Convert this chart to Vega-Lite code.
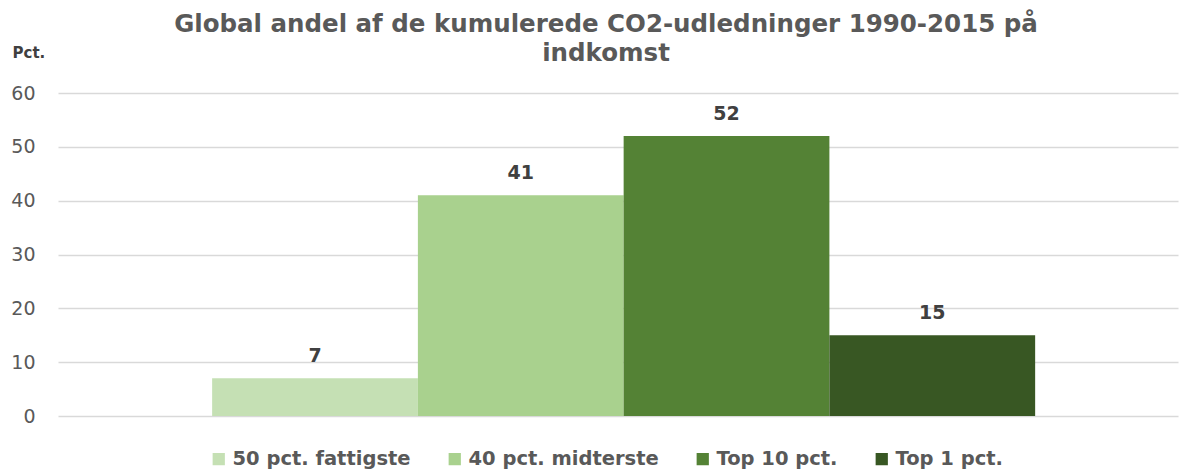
{
  "$schema": "https://vega.github.io/schema/vega-lite/v6.json",
  "width": 1120,
  "height": 323,
  "autosize": {"type": "none"},
  "padding": {"left": 58, "top": 93, "right": 8, "bottom": 55},
  "background": "white",
  "config": {"view": {"stroke": null}},
  "title": {
    "text": ["Global andel af de kumulerede CO2-udledninger 1990-2015 på", "indkomst"],
    "font": "DejaVu Sans",
    "fontSize": 24.5,
    "fontWeight": "bold",
    "color": "#595959",
    "anchor": "middle",
    "dx": -12,
    "offset": -21,
    "lineHeight": 29
  },
  "data": {
    "values": [
      {"gruppe": "50 pct. fattigste", "andel": 7},
      {"gruppe": "40 pct. midterste", "andel": 41},
      {"gruppe": "Top 10 pct.", "andel": 52},
      {"gruppe": "Top 1 pct.", "andel": 15}
    ]
  },
  "encoding": {
    "x": {
      "field": "gruppe",
      "type": "nominal",
      "sort": ["50 pct. fattigste", "40 pct. midterste", "Top 10 pct.", "Top 1 pct."],
      "scale": {"paddingInner": 0, "paddingOuter": 0.7217, "align": 0.519},
      "axis": null
    },
    "y": {
      "field": "andel",
      "type": "quantitative",
      "scale": {"domain": [0, 60]},
      "axis": {
        "values": [0, 10, 20, 30, 40, 50, 60],
        "title": "Pct.",
        "titleAngle": 0,
        "titleAlign": "left",
        "titleBaseline": "middle",
        "titleX": -46,
        "titleY": -41,
        "titleFont": "DejaVu Sans",
        "titleFontSize": 15,
        "titleFontWeight": "bold",
        "titleColor": "#404040",
        "labelFont": "DejaVu Sans",
        "labelFontSize": 19,
        "labelColor": "#595959",
        "labelPadding": 23,
        "domain": false,
        "ticks": false,
        "grid": true,
        "gridColor": "#d9d9d9",
        "gridWidth": 1.5
      }
    }
  },
  "layer": [
    {
      "mark": {"type": "bar"},
      "encoding": {
        "color": {
          "field": "gruppe",
          "type": "nominal",
          "sort": ["50 pct. fattigste", "40 pct. midterste", "Top 10 pct.", "Top 1 pct."],
          "scale": {
            "domain": ["50 pct. fattigste", "40 pct. midterste", "Top 10 pct.", "Top 1 pct."],
            "range": ["#c5e0b4", "#a9d18e", "#548235", "#385723"]
          },
          "legend": {
            "orient": "none",
            "legendX": 151,
            "legendY": 356,
            "direction": "horizontal",
            "title": null,
            "symbolType": "square",
            "symbolSize": 150,
            "symbolStrokeWidth": 0,
            "labelFont": "DejaVu Sans",
            "labelFontSize": 19.5,
            "labelFontWeight": "bold",
            "labelColor": "#595959",
            "labelLimit": 300,
            "labelOffset": 4,
            "columnPadding": 34
          }
        }
      }
    },
    {
      "mark": {
        "type": "text",
        "dy": -22,
        "baseline": "middle",
        "font": "DejaVu Sans",
        "fontSize": 19,
        "fontWeight": "bold",
        "color": "#404040"
      },
      "encoding": {
        "text": {"field": "andel", "type": "quantitative"}
      }
    }
  ]
}
